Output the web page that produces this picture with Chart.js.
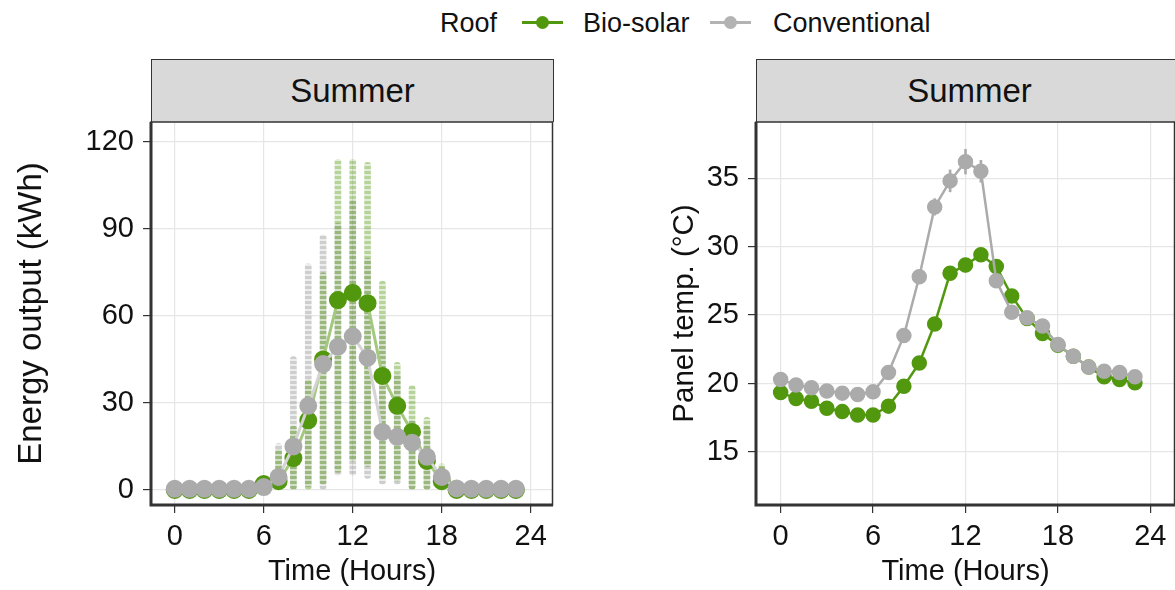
<!DOCTYPE html>
<html>
<head>
<meta charset="utf-8">
<script src="https://cdn.jsdelivr.net/npm/chart.js@4.4.0/dist/chart.umd.min.js"></script>
<style>
  body { margin: 0; width: 1175px; height: 590px; overflow: hidden; background: #fff; position: relative;
         font-family: "Liberation Sans", Arial, sans-serif; color: #111; }
  .lg { position: absolute; top: 7px; font-size: 27px; line-height: 32px; white-space: nowrap; }
  .key { position: absolute; top: 21px; width: 41px; height: 3px; background: var(--c); }
  .key::after { content: ""; position: absolute; left: 14px; top: -5px; width: 13px; height: 13px; border-radius: 50%; background: var(--c); }
  .strip { position: absolute; top: 59px; height: 62px; background: #d9d9d9; border: 1.5px solid #333; border-bottom: none;
           display: flex; align-items: center; justify-content: center; font-size: 33px; }
  canvas { position: absolute; }
</style>
</head>
<body>
<span class="lg" style="left:440px">Roof</span>
<span class="key" style="left:522px;--c:#52980f"></span>
<span class="lg" style="left:583px">Bio-solar</span>
<span class="key" style="left:710px;--c:#b3b3b3"></span>
<span class="lg" style="left:773px">Conventional</span>
<div class="strip" style="left:151px;width:401px">Summer</div>
<div class="strip" style="left:756px;width:425px">Summer</div>
<canvas id="energyChart" style="left:0;top:121px" width="575" height="469"></canvas>
<canvas id="tempChart" style="left:575px;top:121px" width="600" height="469"></canvas>
<script>
var hours = [0,1,2,3,4,5,6,7,8,9,10,11,12,13,14,15,16,17,18,19,20,21,22,23];
var xTicks = [0,6,12,18,24];
var energyTicks = [0,30,60,90,120];
var tempTicks = [15,20,25,30,35];

// mean energy output per hour (kWh)
var energyBio  = [0,0,0,0,0,0,2,3,11,24,45,65.5,68,64.4,39.3,29,20,10,3,0,0,0,0,0];
var energyConv = [0.4,0.4,0.4,0.4,0.4,0.4,1,4.5,15,29,43.4,49.4,53,45.6,20,18.3,16.3,11.4,4.5,0.5,0.4,0.4,0.4,0.4];

// spread of the individual readings per hour (kWh)
var rawBioMin  = [0,0,0,0,0,0,0,0,0,0,2,6,10,8,4,3,0,0,0,0,0,0,0,0];
var rawBioMax  = [0,0,0,0,0,0,4,14,22,38,75,114,114,113,72,44,36,25,9,0,0,0,0,0];
var rawConvMin = [0,0,0,0,0,0,0,0,0,1,0,5,5,4,2,2,0,0,0,0,0,0,0,0];
var rawConvMax = [0,0,0,0,0,0,3,16,46,78,88,92,100,80,58,40,24,22,8,0,0,0,0,0];

// mean panel temperature per hour (°C) and its error
var tempBio  = [19.35,18.9,18.7,18.2,17.95,17.7,17.7,18.35,19.8,21.5,24.35,28.05,28.65,29.4,28.55,26.4,24.75,23.65,22.8,22.0,21.2,20.5,20.3,20.05];
var tempConv = [20.3,19.9,19.7,19.45,19.3,19.2,19.4,20.8,23.5,27.8,32.9,34.8,36.2,35.5,27.5,25.2,24.8,24.2,22.85,22.0,21.2,20.9,20.8,20.5];
var errBio   = [0.2,0.2,0.2,0.2,0.2,0.2,0.2,0.2,0.3,0.3,0.3,0.4,0.5,0.5,0.3,0.3,0.2,0.2,0.2,0.2,0.2,0.2,0.2,0.2];
var errConv  = [0.2,0.2,0.2,0.2,0.2,0.2,0.2,0.2,0.3,0.3,0.6,0.8,0.9,0.8,0.3,0.2,0.2,0.2,0.2,0.2,0.2,0.2,0.2,0.2];

var GREEN = '#52980f', GRAY = '#ababab';
var FONT = '"Liberation Sans", Arial, sans-serif';

function pts(ys) { return hours.map(function (h, i) { return {x: h, y: ys[i]}; }); }
function spans(lo, hi) {
  return hours.map(function (h, i) { return {x: h, y: [lo[i], hi[i]]}; })
              .filter(function (p) { return p.y[1] > p.y[0]; });
}
function plusMinus(v, e, sign) { return v.map(function (m, i) { return m + sign * e[i]; }); }

// soft stacked-dot look for the raw readings columns
function dots(strong, faint) {
  var c = document.createElement('canvas');
  c.width = 1; c.height = 5;
  var g = c.getContext('2d');
  g.fillStyle = strong; g.fillRect(0, 0, 1, 3);
  g.fillStyle = faint;  g.fillRect(0, 3, 1, 2);
  return g.createPattern(c, 'repeat');
}

var panelFrame = {
  id: 'panelFrame',
  afterDraw: function (chart) {
    var a = chart.chartArea, c = chart.ctx;
    c.save();
    c.strokeStyle = '#333';
    c.lineWidth = 1.5;
    c.strokeRect(a.left, a.top, a.right - a.left - 0.5, a.bottom - a.top);
    c.lineWidth = 3;
    c.beginPath();
    c.moveTo(a.left, a.top); c.lineTo(a.left, a.bottom); c.lineTo(a.right, a.bottom);
    c.stroke();
    c.restore();
  }
};

function noPad(s) { s.paddingTop = 0; s.paddingBottom = 0; s.paddingLeft = 0; s.paddingRight = 0; }

function axes(o) {
  return {
    x: {
      type: 'linear', min: -1.6, max: o.xmax, offset: false,
      afterBuildTicks: function (s) { s.ticks = xTicks.map(function (v) { return {value: v}; }); },
      afterFit: function (s) { s.height = 85; noPad(s); },
      grid: { color: '#e6e6e6', lineWidth: 1.2, tickColor: '#333', tickLength: 8, offset: false },
      border: { display: false },
      ticks: { color: '#111', padding: 7, font: { family: FONT, size: 29 } },
      title: { display: true, text: 'Time (Hours)', color: '#111', padding: { top: 0, bottom: 1 }, font: { family: FONT, size: 29 } }
    },
    y: {
      type: 'linear', min: o.ymin, max: o.ymax,
      afterBuildTicks: function (s) { s.ticks = o.yTicks.map(function (v) { return {value: v}; }); },
      afterFit: function (s) { s.width = o.yWidth; noPad(s); },
      grid: { color: '#e6e6e6', lineWidth: 1.2, tickColor: '#333', tickLength: 8 },
      border: { display: false },
      ticks: { color: '#111', padding: 9, font: { family: FONT, size: 29 } },
      title: { display: true, text: o.yTitle, color: '#111', padding: { top: o.titlePad, bottom: 0 }, font: { family: FONT, size: o.titleSize } }
    }
  };
}

new Chart(document.getElementById('energyChart'), {
  type: 'line',
  data: {
    datasets: [
      { type: 'bar', label: 'Conventional readings', data: spans(rawConvMin, rawConvMax),
        backgroundColor: dots('rgba(125,125,125,0.38)', 'rgba(125,125,125,0.14)'),
        barThickness: 6, grouped: false, borderRadius: 3, borderSkipped: false, order: 6 },
      { type: 'bar', label: 'Bio-solar readings', data: spans(rawBioMin, rawBioMax),
        backgroundColor: dots('rgba(82,152,15,0.42)', 'rgba(82,152,15,0.16)'),
        barThickness: 6, grouped: false, borderRadius: 3, borderSkipped: false, order: 5 },
      { label: 'Bio-solar', data: pts(energyBio), borderColor: '#a3c97e', borderWidth: 3,
        pointBackgroundColor: GREEN, pointBorderColor: GREEN, pointRadius: 7.5, order: 2 },
      { label: 'Conventional', data: pts(energyConv), borderColor: '#d4d4d4', borderWidth: 3,
        pointBackgroundColor: GRAY, pointBorderColor: GRAY, pointRadius: 7.5, order: 1 }
    ]
  },
  options: {
    responsive: false, animation: false,
    layout: { autoPadding: false, padding: { top: 1, right: 22, left: 0, bottom: 0 } },
    plugins: { legend: { display: false }, tooltip: { enabled: false } },
    scales: axes({ xmax: 25.5, ymin: -5.2, ymax: 126.9, yTicks: energyTicks, yWidth: 151,
                   yTitle: 'Energy output (kWh)', titleSize: 33, titlePad: 12 })
  },
  plugins: [panelFrame]
});

new Chart(document.getElementById('tempChart'), {
  type: 'line',
  data: {
    datasets: [
      { type: 'bar', label: 'Conventional error', data: spans(plusMinus(tempConv, errConv, -1), plusMinus(tempConv, errConv, 1)),
        backgroundColor: GRAY, barThickness: 2, grouped: false, order: 4 },
      { type: 'bar', label: 'Bio-solar error', data: spans(plusMinus(tempBio, errBio, -1), plusMinus(tempBio, errBio, 1)),
        backgroundColor: GREEN, barThickness: 2, grouped: false, order: 3 },
      { label: 'Bio-solar', data: pts(tempBio), borderColor: GREEN, borderWidth: 2.5,
        pointBackgroundColor: GREEN, pointBorderColor: GREEN, pointRadius: 6.5, order: 2 },
      { label: 'Conventional', data: pts(tempConv), borderColor: GRAY, borderWidth: 2.5,
        pointBackgroundColor: GRAY, pointBorderColor: GRAY, pointRadius: 6.5, order: 1 }
    ]
  },
  options: {
    responsive: false, animation: false,
    layout: { autoPadding: false, padding: { top: 1, right: 0, left: 0, bottom: 0 } },
    plugins: { legend: { display: false }, tooltip: { enabled: false } },
    scales: axes({ xmax: 25.6, ymin: 11.13, ymax: 39.1, yTicks: tempTicks, yWidth: 181,
                   yTitle: 'Panel temp. (°C)', titleSize: 29.5, titlePad: 92 })
  },
  plugins: [panelFrame]
});
</script>
</body>
</html>
